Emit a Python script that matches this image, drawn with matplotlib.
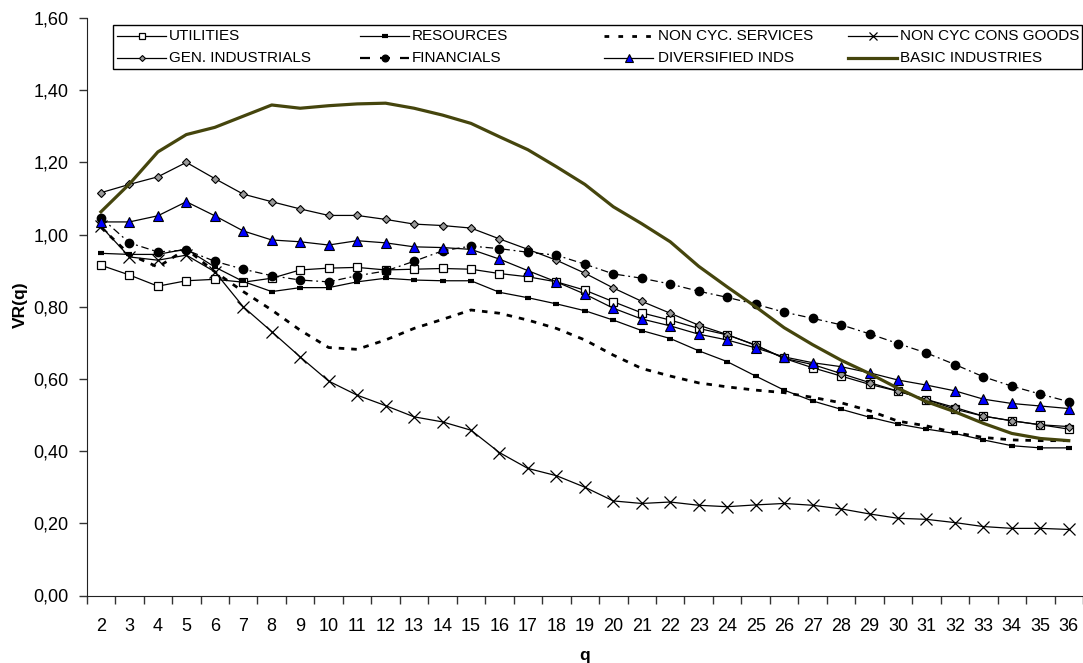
import numpy as np
import matplotlib as mpl
mpl.use('Agg')
import matplotlib.pyplot as plt
from matplotlib.lines import Line2D
from matplotlib.patches import Rectangle
from matplotlib.ticker import FuncFormatter

plt.rcParams['font.family'] = ['Liberation Sans', 'DejaVu Sans']

q = list(range(2, 37))

utilities = [0.915, 0.888, 0.857, 0.872, 0.876, 0.868, 0.879, 0.902, 0.907, 0.909, 0.902, 0.904,
             0.906, 0.904, 0.892, 0.883, 0.869, 0.846, 0.814, 0.783, 0.763, 0.740, 0.722, 0.694,
             0.657, 0.631, 0.608, 0.585, 0.566, 0.543, 0.516, 0.497, 0.484, 0.473, 0.461]
resources = [0.948, 0.945, 0.945, 0.960, 0.910, 0.870, 0.842, 0.853, 0.853, 0.869, 0.879, 0.874,
             0.872, 0.872, 0.840, 0.825, 0.808, 0.789, 0.763, 0.734, 0.712, 0.678, 0.648, 0.608,
             0.569, 0.539, 0.516, 0.494, 0.475, 0.461, 0.449, 0.431, 0.415, 0.409, 0.409]
noncyc_services = [1.020, 0.945, 0.910, 0.960, 0.897, 0.842, 0.791, 0.735, 0.687, 0.682, 0.708, 0.740,
                   0.765, 0.791, 0.782, 0.763, 0.740, 0.708, 0.666, 0.629, 0.608, 0.589, 0.578, 0.569,
                   0.562, 0.549, 0.534, 0.512, 0.483, 0.470, 0.451, 0.438, 0.431, 0.429, 0.429]
noncyc_goods = [1.023, 0.938, 0.929, 0.943, 0.897, 0.800, 0.731, 0.661, 0.594, 0.555, 0.526, 0.495,
                0.481, 0.458, 0.396, 0.352, 0.332, 0.300, 0.262, 0.255, 0.259, 0.250, 0.246, 0.251,
                0.255, 0.250, 0.240, 0.226, 0.214, 0.211, 0.202, 0.191, 0.186, 0.186, 0.183]
gen_industrials = [1.116, 1.139, 1.160, 1.200, 1.155, 1.112, 1.091, 1.071, 1.053, 1.053, 1.042, 1.029,
                   1.025, 1.018, 0.988, 0.959, 0.929, 0.893, 0.852, 0.815, 0.782, 0.749, 0.723, 0.693,
                   0.657, 0.640, 0.615, 0.590, 0.566, 0.543, 0.521, 0.497, 0.484, 0.473, 0.468]
financials = [1.047, 0.977, 0.952, 0.957, 0.926, 0.904, 0.886, 0.874, 0.869, 0.886, 0.899, 0.926,
              0.955, 0.968, 0.961, 0.951, 0.943, 0.918, 0.891, 0.879, 0.863, 0.843, 0.826, 0.807,
              0.785, 0.768, 0.750, 0.725, 0.698, 0.672, 0.640, 0.606, 0.580, 0.558, 0.537]
diversified = [1.035, 1.035, 1.052, 1.091, 1.052, 1.010, 0.985, 0.980, 0.971, 0.983, 0.977, 0.966,
               0.964, 0.959, 0.932, 0.900, 0.869, 0.835, 0.796, 0.766, 0.747, 0.724, 0.708, 0.686,
               0.661, 0.645, 0.634, 0.617, 0.597, 0.583, 0.567, 0.544, 0.532, 0.525, 0.518]
basic_industries = [1.063, 1.140, 1.229, 1.277, 1.297, 1.328, 1.359, 1.350, 1.357, 1.362, 1.364, 1.350,
                    1.331, 1.308, 1.271, 1.235, 1.188, 1.139, 1.077, 1.030, 0.980, 0.912, 0.855, 0.800,
                    0.742, 0.695, 0.652, 0.615, 0.574, 0.537, 0.509, 0.477, 0.449, 0.435, 0.429]

labels = ['UTILITIES', 'RESOURCES', 'NON CYC. SERVICES', 'NON CYC CONS GOODS',
          'GEN. INDUSTRIALS', 'FINANCIALS', 'DIVERSIFIED INDS', 'BASIC INDUSTRIES']

W, H = 1083, 663
fig = plt.figure(figsize=(W / 100, H / 100), dpi=100)
ax = fig.add_axes([86.7 / W, 1 - 595.5 / H, 1 - 86.7 / W, (595.5 - 18) / H])

olive = '#45450d'
styles = [
    dict(color='black', lw=0.9, marker='s', ms=6, mfc='white', mec='black', mew=0.9),
    dict(color='black', lw=0.9, marker='_', ms=5, mec='black', mew=3),
    dict(color='black', lw=2.0, ls=(0, (2.0, 2.5))),
    dict(color='black', lw=0.9, marker='x', ms=8, mec='black', mew=0.9),
    dict(color='black', lw=0.9, marker='D', ms=3.8, mfc='#999999', mec='black', mew=0.8),
    dict(color='black', lw=0.9, ls=(0, (6, 3, 1.5, 3)), marker='o', ms=6, mfc='black', mec='black'),
    dict(color='black', lw=0.9, marker='^', ms=6.5, mfc='#0000ff', mec='black', mew=0.8),
    dict(color=olive, lw=2.3),
]
series = [utilities, resources, noncyc_services, noncyc_goods,
          gen_industrials, financials, diversified, basic_industries]

for vals, st in zip(series, styles):
    ax.plot(q, vals, clip_on=False, **st)

ax.set_xlim(1.5, 36.4)
ax.set_ylim(0, 1.6)
ax.set_yticks(np.arange(0, 1.61, 0.2))
ax.yaxis.set_major_formatter(FuncFormatter(lambda v, p: f'{v:.2f}'.replace('.', ',')))
ax.set_xticks(q)
ax.set_xticks(np.arange(1.5, 36.6, 1), minor=True)
ax.tick_params(axis='x', which='major', length=0, pad=22, labelsize=13)
ax.tick_params(axis='x', which='minor', length=6, width=1, direction='out', color='#333333')
ax.tick_params(axis='y', length=6, width=1, direction='out', pad=7, labelsize=13, color='#333333')
for lab in ax.get_xticklabels():
    lab.set_verticalalignment('center')
ax.spines['top'].set_visible(False)
ax.spines['right'].set_visible(False)
ax.spines['left'].set_color('#222222')
ax.spines['bottom'].set_color('#222222')

fig.text(20 / W, 1 - 305 / H, 'VR(q)', rotation=90, ha='center', va='center',
         fontsize=12.5, fontweight='bold')
fig.text(585 / W, 1 - 660 / H, 'q', ha='center', va='baseline', fontsize=12.5, fontweight='bold')

# legend drawn by hand to match the column layout
fig.patches.append(Rectangle((113 / W, 1 - 69 / H), (1082 - 113) / W, 44.5 / H,
                             transform=fig.transFigure, fill=False, ec='black', lw=1))
col_x = [(117, 166, 169), (360, 409, 412), (604, 653, 658), (848, 897, 900)]
row_y = [36, 57.5]
legend_ls = {2: (0, (1.7, 3.3)), 5: (0, (4.5, 4.5))}
for i, (lab, st) in enumerate(zip(labels, styles)):
    r, c = divmod(i, 4)
    x0, x1, xt = col_x[c]
    y = 1 - row_y[r] / H
    xs = [x0 / W, (x0 + x1) / 2 / W, x1 / W]
    kw = dict(st)
    if i in legend_ls:
        kw['ls'] = legend_ls[i]
        kw['lw'] = 2.0 if i == 2 else 1.6
    if 'marker' in kw:
        kw['markevery'] = [1]
        if kw['marker'] != '_':
            kw['ms'] = kw['ms'] * 0.8
    fig.add_artist(Line2D(xs, [y, y, y], transform=fig.transFigure, **kw))
    fig.text(xt / W, y, lab, ha='left', va='center', fontsize=11)

fig.savefig('out.png', dpi=100)
